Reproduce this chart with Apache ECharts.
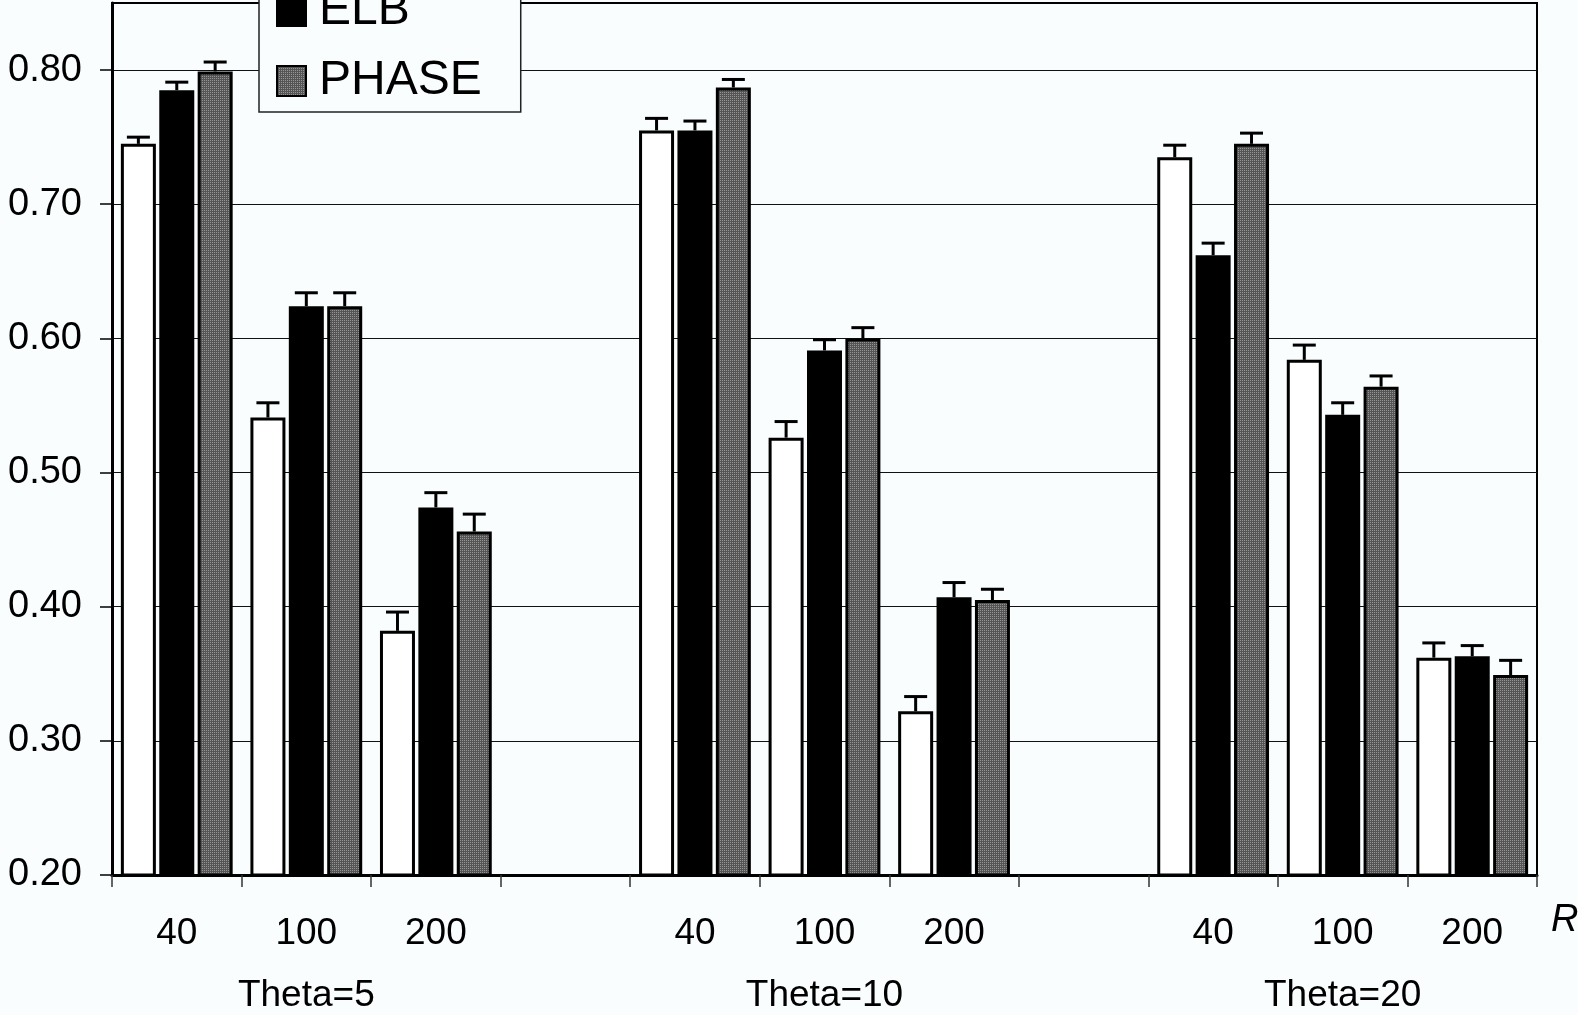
<!DOCTYPE html>
<html>
<head>
<meta charset="utf-8">
<title>Theta / R bar chart</title>
<script src="https://cdn.jsdelivr.net/npm/echarts@6/dist/echarts.min.js"></script>
<style>
  html, body { margin: 0; padding: 0; background: #f9fdfd; }
  #chart { width: 1578px; height: 1015px; }
</style>
</head>
<body>
<div id="chart"></div>
<script>
// R values per Theta group; the blank slot separates the groups
const categories = ['40', '100', '200', '', '40', '100', '200', '', '40', '100', '200'];
const groupLabels = ['', 'Theta=5', '', '', '', 'Theta=10', '', '', '', 'Theta=20', ''];
const yTicks = [0.2, 0.3, 0.4, 0.5, 0.6, 0.7, 0.8];

const seriesNames = ['LB', 'ELB', 'PHASE'];

const lbValues    = [0.745, 0.541, 0.382, null, 0.755, 0.526, 0.322, null, 0.735, 0.584, 0.362];
const lbErrors    = [0.005, 0.011, 0.014, null, 0.009, 0.012, 0.011, null, 0.009, 0.011, 0.011];

const elbValues   = [0.785, 0.624, 0.474, null, 0.755, 0.591, 0.407, null, 0.662, 0.543, 0.363];
const elbErrors   = [0.006, 0.010, 0.011, null, 0.007, 0.008, 0.011, null, 0.009, 0.009, 0.008];

const phaseValues = [0.799, 0.624, 0.456, null, 0.787, 0.600, 0.405, null, 0.745, 0.564, 0.349];
const phaseErrors = [0.007, 0.010, 0.013, null, 0.006, 0.008, 0.008, null, 0.008, 0.008, 0.011];

const FONT = '"Liberation Sans", Arial, Helvetica, sans-serif';
const BG = '#f9fdfd';
const BAR_WIDTH = 35;
const BAR_GAP = 0.097;
const BAR_PITCH = BAR_WIDTH * (1 + BAR_GAP);

// fine dotted grey fill for the PHASE bars
function makeHatch() {
  const c = document.createElement('canvas');
  c.width = 2; c.height = 2;
  const g = c.getContext('2d');
  g.fillStyle = '#555555';
  g.fillRect(0, 0, 2, 2);
  g.fillStyle = '#959595';
  g.fillRect(0, 0, 1, 1);
  return c;
}
const hatch = { image: makeHatch(), repeat: 'repeat' };

function errorData(values, errors) {
  const out = [];
  values.forEach((v, i) => {
    if (v != null) out.push([i, v + errors[i], v]);
  });
  return out;
}

function errorSeries(values, errors, slot) {
  return {
    type: 'custom',
    xAxisIndex: 0,
    yAxisIndex: 0,
    z: 5,
    silent: true,
    encode: { x: 0, y: 1 },
    data: errorData(values, errors),
    renderItem: function (params, api) {
      const top = api.coord([api.value(0), api.value(1)]);
      const base = api.coord([api.value(0), api.value(2)]);
      const x = top[0] + slot * BAR_PITCH;
      const style = { stroke: '#000', lineWidth: 3 };
      return {
        type: 'group',
        children: [
          { type: 'line', shape: { x1: x, y1: base[1], x2: x, y2: top[1] }, style: style },
          { type: 'line', shape: { x1: x - 11.5, y1: top[1], x2: x + 11.5, y2: top[1] }, style: style }
        ]
      };
    }
  };
}

function barSeries(name, values, color) {
  return {
    name: name,
    type: 'bar',
    xAxisIndex: 0,
    yAxisIndex: 0,
    barWidth: BAR_WIDTH,
    barGap: (BAR_GAP * 100) + '%',
    data: values,
    itemStyle: { color: color, borderColor: '#000', borderWidth: 3 }
  };
}

const chart = echarts.init(document.getElementById('chart'), null, { renderer: 'canvas' });

chart.setOption({
  backgroundColor: BG,
  animation: false,
  textStyle: { fontFamily: FONT, color: '#000' },
  grid: {
    left: 112, right: 41, top: 3, bottom: 140,
    show: true, borderColor: '#000', borderWidth: 2,
    outerBoundsMode: 'none'
  },
  legend: {
    data: seriesNames,
    orient: 'vertical',
    left: 259,
    top: -99,
    icon: 'rect',
    itemWidth: 29,
    itemHeight: 30,
    itemGap: 22,
    padding: [16, 39, 7, 17],
    backgroundColor: BG,
    borderColor: '#222',
    borderWidth: 1.5,
    textStyle: { fontSize: 48, color: '#000', fontFamily: FONT, padding: [0, 0, 0, 8] },
    z: 10
  },
  xAxis: [
    {
      type: 'category',
      data: categories,
      position: 'bottom',
      name: 'R',
      nameLocation: 'end',
      nameGap: 14,
      nameTextStyle: {
        fontSize: 38, fontStyle: 'italic', color: '#000', fontFamily: FONT,
        verticalAlign: 'top', padding: [26, 0, 0, 0]
      },
      axisLine: { show: true, lineStyle: { color: '#000', width: 3 } },
      axisTick: { show: true, interval: 0, length: 12, lineStyle: { color: '#333', width: 1.5 } },
      axisLabel: { interval: 0, margin: 40, fontSize: 37, color: '#000', fontFamily: FONT },
      splitLine: { show: false }
    },
    {
      type: 'category',
      data: groupLabels,
      position: 'bottom',
      gridIndex: 0,
      axisLine: { show: false },
      axisTick: { show: false },
      axisLabel: { interval: 0, margin: 102, fontSize: 37, color: '#000', fontFamily: FONT },
      splitLine: { show: false }
    }
  ],
  yAxis: {
    type: 'value',
    min: 0.2,
    max: 0.85,
    interval: 0.1,
    axisLine: { show: true, lineStyle: { color: '#000', width: 3 } },
    axisTick: {
      show: true, length: 12, customValues: yTicks,
      lineStyle: { color: '#000', width: 1.5 }
    },
    axisLabel: {
      customValues: yTicks,
      margin: 30, fontSize: 38, color: '#000', fontFamily: FONT,
      formatter: v => v.toFixed(2)
    },
    splitLine: { show: true, lineStyle: { color: '#111', width: 1.2 } }
  },
  series: [
    barSeries(seriesNames[0], lbValues, '#ffffff'),
    barSeries(seriesNames[1], elbValues, '#000000'),
    barSeries(seriesNames[2], phaseValues, hatch),
    errorSeries(lbValues, lbErrors, -1),
    errorSeries(elbValues, elbErrors, 0),
    errorSeries(phaseValues, phaseErrors, 1)
  ]
});
</script>
</body>
</html>
